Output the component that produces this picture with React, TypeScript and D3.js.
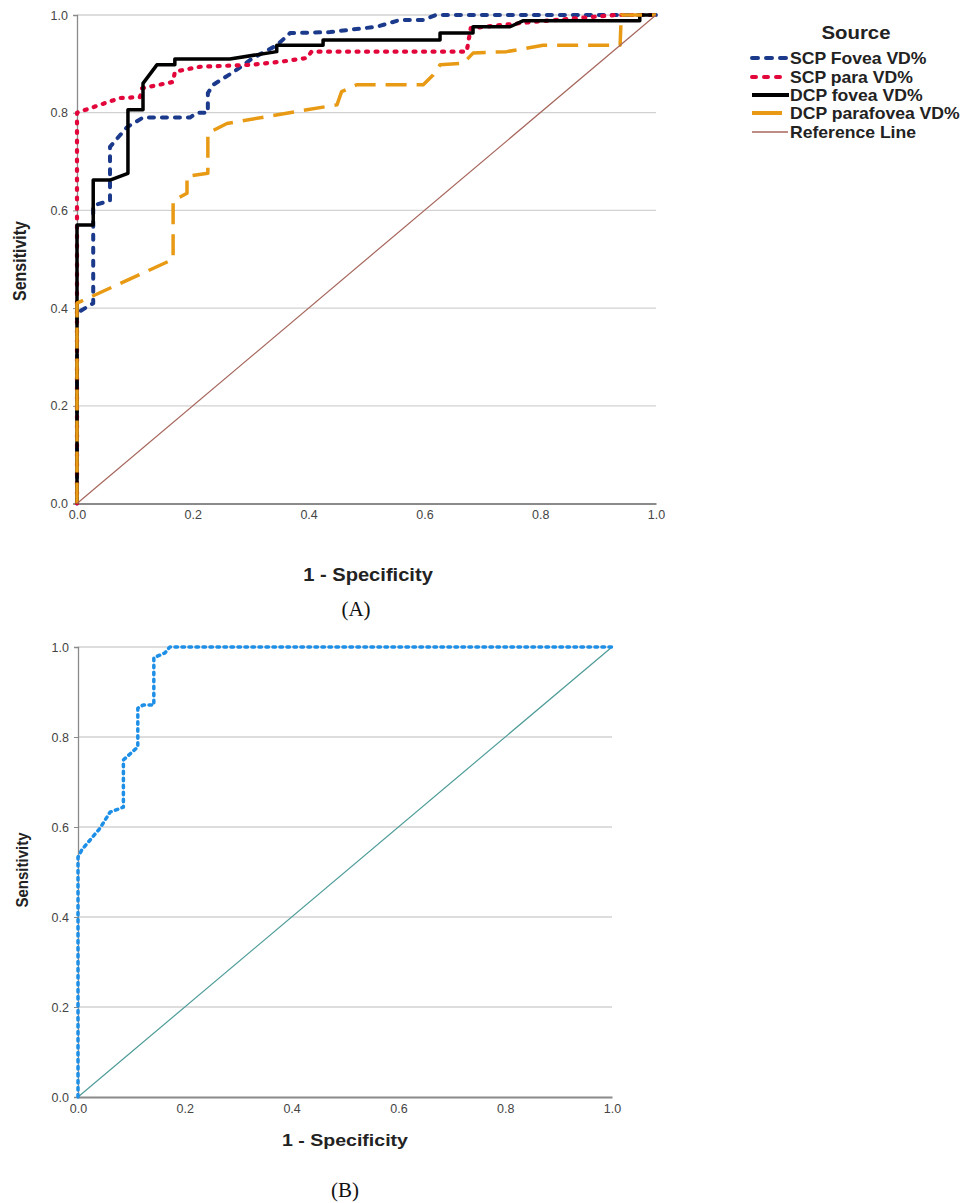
import React, { useEffect, useRef } from 'react';
import { select, scaleLinear, line, axisLeft, axisBottom, format } from 'd3';

// ROC points: [1 - specificity, sensitivity]
const scpFovea: [number, number][] = [[0,0],[0,0.39],[0.028,0.41],[0.028,0.61],[0.057,0.62],[0.057,0.73],[0.086,0.77],[0.114,0.79],[0.195,0.79],[0.207,0.80],[0.226,0.80],[0.226,0.84],[0.235,0.857],[0.27,0.883],[0.304,0.912],[0.345,0.938],[0.368,0.963],[0.437,0.965],[0.518,0.976],[0.558,0.99],[0.598,0.99],[0.62,1],[1,1]];
const scpPara: [number, number][] = [[0,0],[0,0.80],[0.074,0.83],[0.109,0.832],[0.112,0.85],[0.166,0.863],[0.169,0.884],[0.212,0.894],[0.30,0.898],[0.356,0.905],[0.397,0.912],[0.405,0.925],[0.673,0.925],[0.68,0.973],[0.788,0.986],[0.93,1],[1,1]];
const dcpFovea: [number, number][] = [[0,0],[0,0.57],[0.028,0.57],[0.028,0.662],[0.057,0.662],[0.088,0.676],[0.088,0.806],[0.114,0.806],[0.114,0.86],[0.138,0.898],[0.169,0.898],[0.169,0.91],[0.264,0.91],[0.345,0.925],[0.345,0.938],[0.425,0.938],[0.425,0.949],[0.627,0.949],[0.627,0.963],[0.684,0.963],[0.684,0.976],[0.748,0.976],[0.77,0.988],[0.972,0.988],[0.972,1],[1,1]];
const dcpParafovea: [number, number][] = [[0,0],[0,0.41],[0.166,0.50],[0.166,0.62],[0.19,0.635],[0.19,0.67],[0.226,0.676],[0.226,0.758],[0.259,0.778],[0.397,0.806],[0.449,0.816],[0.457,0.843],[0.483,0.857],[0.598,0.857],[0.615,0.877],[0.627,0.898],[0.667,0.901],[0.684,0.922],[0.742,0.925],[0.805,0.938],[0.938,0.938],[0.94,1],[1,1]];
const panelB: [number, number][] = [[0,0],[0,0.533],[0.007,0.549],[0.041,0.597],[0.06,0.633],[0.085,0.644],[0.085,0.749],[0.112,0.778],[0.112,0.864],[0.122,0.871],[0.142,0.871],[0.142,0.976],[0.163,0.987],[0.172,1],[1,1]];
const refLine: [number, number][] = [[0,0],[1,1]];

const ticks = [0, 0.2, 0.4, 0.6, 0.8, 1.0];
const legendLabels = ['SCP Fovea VD%', 'SCP para VD%', 'DCP fovea VD%', 'DCP parafovea VD%', 'Reference Line'];

const sans = 'Arial, "Liberation Sans", sans-serif';
const serif = '"Liberation Serif", "Times New Roman", serif';

const seriesA = [
  { data: scpFovea, color: '#1b3a8c', width: 4, dash: '5,8', cap: 'round' },
  { data: scpPara, color: '#e2063b', width: 4.2, dash: '2,7.5', cap: 'round' },
  { data: dcpFovea, color: '#000000', width: 3.5, dash: null, cap: 'butt' },
  { data: dcpParafovea, color: '#e89a14', width: 3.5, dash: '21,10', cap: 'butt' },
  { data: refLine, color: '#a6665c', width: 1.2, dash: null, cap: 'butt' },
];
const seriesB = [
  { data: refLine, color: '#4e9c98', width: 1.2, dash: null, cap: 'butt' },
  { data: panelB, color: '#1e8fe6', width: 3.5, dash: '2.5,4.5', cap: 'round' },
];

// text with a slight horizontal stretch, like the scanned figure
const label = (g: any, x: number, y: number, txt: string, size: number, opts: any = {}) => {
  const sx = opts.sx ?? 1.12;
  const rot = opts.rot ? ` rotate(${opts.rot})` : '';
  const scale = opts.rot ? `scale(1,${sx})` : `scale(${sx},1)`;
  return g.append('text')
    .attr('transform', `translate(${x},${y})${rot} ${scale}`)
    .attr('text-anchor', opts.anchor ?? 'middle')
    .style('font-family', opts.font ?? sans).style('font-size', `${size}px`)
    .style('font-weight', opts.weight ?? 'bold').attr('fill', opts.fill ?? '#222')
    .text(txt);
};

const drawPanel = (g: any, x0: number, x1: number, y0: number, y1: number, series: any[]) => {
  const x = scaleLinear().domain([0, 1]).range([x0, x1]);
  const y = scaleLinear().domain([0, 1]).range([y0, y1]);
  const f = format('.1f');

  // grid
  g.append('g').selectAll('line').data(ticks.slice(1)).join('line')
    .attr('x1', x0).attr('x2', x1)
    .attr('y1', (d: number) => y(d)).attr('y2', (d: number) => y(d))
    .attr('stroke', '#d2d2d2').attr('stroke-width', 1.3);

  const ya = g.append('g').attr('transform', `translate(${x0},0)`)
    .call(axisLeft(y).tickValues(ticks).tickFormat(f).tickSize(4).tickPadding(5));
  const xa = g.append('g').attr('transform', `translate(0,${y0})`)
    .call(axisBottom(x).tickValues(ticks).tickFormat(f).tickSize(0).tickPadding(7));
  ya.select('.domain').attr('stroke', '#8a8a8a').attr('stroke-width', 1.3);
  ya.selectAll('.tick line').attr('stroke', '#8a8a8a');
  xa.select('.domain').attr('stroke', '#8a8a8a').attr('stroke-width', 2.2);
  g.selectAll('.tick text').style('font-family', sans).style('font-size', '12.5px').attr('fill', '#444');

  const ln = line<[number, number]>().x(d => x(d[0])).y(d => y(d[1]));
  series.forEach(s => {
    g.append('path').attr('d', ln(s.data)).attr('fill', 'none')
      .attr('stroke', s.color).attr('stroke-width', s.width)
      .attr('stroke-dasharray', s.dash).attr('stroke-linecap', s.cap)
      .attr('stroke-linejoin', 'round');
  });
  return { x, y };
};

export default function App() {
  const ref = useRef<SVGSVGElement>(null);

  useEffect(() => {
    const svg = select(ref.current);
    svg.selectAll('*').remove();

    // panel A
    const gA = svg.append('g');
    drawPanel(gA, 77, 656, 503.5, 15, seriesA);
    label(gA, 26, 261, 'Sensitivity', 16, { rot: -90 });
    label(gA, 368, 581, '1 - Specificity', 17.5, { sx: 1.15 });
    label(gA, 356, 616, '(A)', 21, { font: serif, weight: 'normal', fill: '#111', sx: 1 });

    // legend
    const leg = svg.append('g');
    label(leg, 856, 39, 'Source', 18.5, { sx: 1.1 });
    const ly = [58, 77, 95, 113, 132];
    const legDash = ['6,8', '4,8', null, null, null];
    const legEnd = [788, 782, 789, 782, 788];
    seriesA.forEach((s, i) => {
      leg.append('line').attr('x1', i === 4 ? 752 : 752).attr('x2', legEnd[i])
        .attr('y1', ly[i]).attr('y2', ly[i])
        .attr('stroke', s.color).attr('stroke-width', i === 4 ? 1.5 : 4)
        .attr('stroke-dasharray', legDash[i]).attr('stroke-linecap', i < 2 ? 'round' : 'butt');
      label(leg, 790, ly[i] + 6, legendLabels[i], 16, { anchor: 'start', sx: 1.1 });
    });

    // panel B
    const gB = svg.append('g');
    drawPanel(gB, 78, 612, 1097, 647, seriesB);
    label(gB, 28, 870, 'Sensitivity', 15, { rot: -90 });
    label(gB, 345, 1146, '1 - Specificity', 17, { sx: 1.15 });
    label(gB, 345, 1197, '(B)', 21, { font: serif, weight: 'normal', fill: '#111', sx: 1 });
  }, []);

  return (
    <div style={{ position: 'absolute', left: 0, top: 0 }}>
      <svg ref={ref} width={960} height={1203} style={{ display: 'block', background: '#fff' }} />
    </div>
  );
}
